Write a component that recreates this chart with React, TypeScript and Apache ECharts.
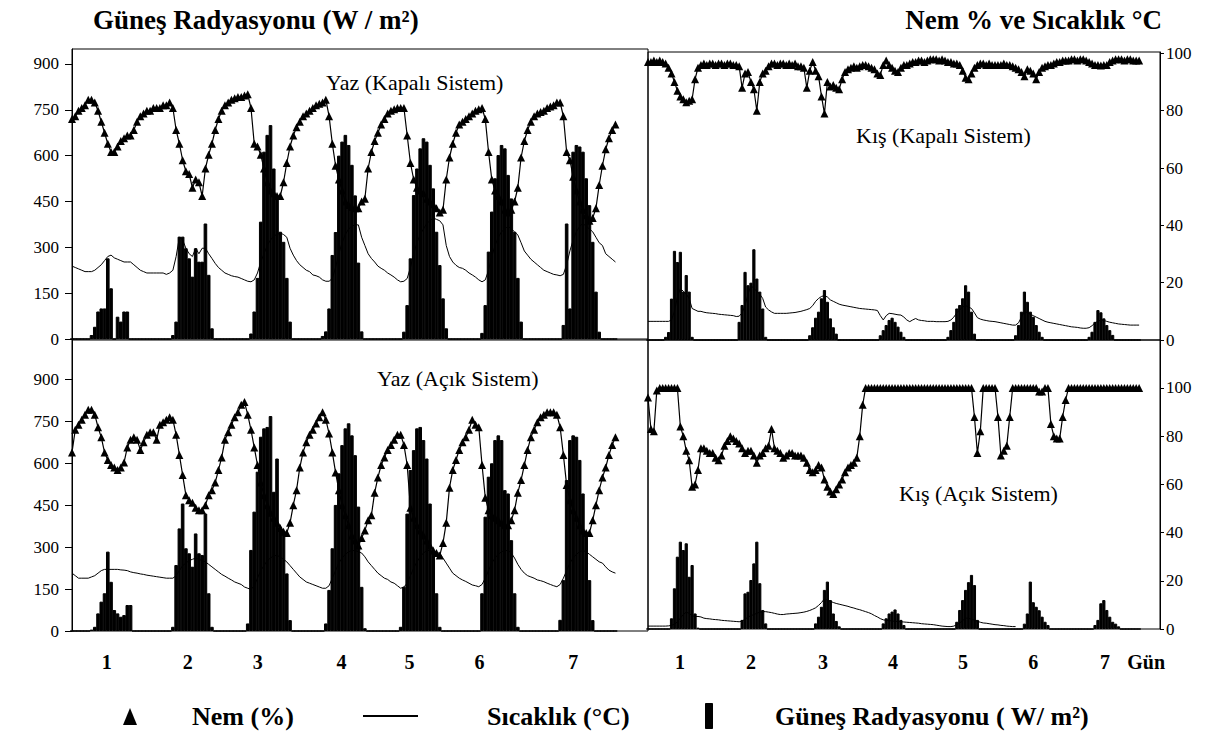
import React, { useEffect, useRef } from 'react';
import * as echarts from 'echarts';

const FONT = '"Liberation Serif", "Times New Roman", serif';

// ---- axis label data ----
const DAY_LABELS = ['1', '2', '3', '4', '5', '6', '7'];
const RIGHT_LABELS = ['1', '2', '3', '4', '5', '6', '7', 'Gün'];
const LEFT_DAY_POS = [10.7, 35.6, 57.1, 82.8, 103.7, 125.2, 154];
const RIGHT_DAY_POS = [10.9, 35, 59.5, 83.3, 107.1, 131, 155.4, 169.4];

// ---- Yaz (Kapalı Sistem): hourly values ----
const TL_RAD = [
  0, 0, 0, 0, 0, 0, 13, 40, 90, 100, 100, 264, 166, 0, 73, 57, 90, 90, 0, 0, 0, 0, 0, 0,
  0, 0, 0, 0, 0, 0, 0, 13, 57, 335, 335, 297, 264, 204, 297, 253, 253, 378, 210, 35, 0, 0, 0, 0,
  0, 0, 0, 0, 0, 0, 0, 18, 90, 200, 384, 613, 668, 700, 558, 460, 351, 318, 200, 57, 0, 0, 0, 0,
  0, 0, 0, 0, 0, 10, 25, 100, 275, 350, 600, 646, 668, 635, 570, 470, 250, 25, 0, 0, 0, 0, 0, 0,
  0, 0, 0, 0, 0, 0, 24, 111, 264, 471, 558, 624, 657, 646, 570, 493, 351, 242, 133, 35, 0, 0, 0, 0,
  0, 0, 0, 0, 0, 0, 20, 111, 286, 417, 526, 602, 635, 624, 537, 460, 351, 200, 57, 0, 0, 0, 0, 0,
  0, 0, 0, 0, 0, 0, 0, 46, 378, 100, 613, 635, 630, 613, 526, 438, 318, 155, 24, 0, 0, 0, 0, 0,
];
const TL_HUM = [
  80, 81, 83, 84, 85, 87, 87, 86, 83, 79, 75, 71, 68, 68, 70, 72, 73, 74, 74, 76, 79, 81, 82, 83,
  83, 84, 84, 84, 85, 85, 86, 84, 76, 71, 65, 61, 60, 55, 58, 57, 52, 62, 67, 71, 76, 80, 83, 85,
  86, 87, 87.5, 88, 88, 88.5, 89, 84, 71, 70, 67, 62, 57, 54, 53, 52, 52, 57, 64, 70, 74, 77, 79, 81,
  82, 83, 84, 85, 85.5, 86, 87, 81, 71, 63, 58, 54, 50, 48.7, 48, 47.5, 47.5, 50, 51, 62, 68, 72, 75, 78,
  80, 82, 83, 83.5, 84, 84, 84, 74, 64, 58, 55, 54, 53, 51, 50, 49, 47.5, 46, 47, 58, 66, 71, 75, 78,
  79, 80, 81, 82, 83, 83.5, 84, 80, 68, 58, 54, 52, 50, 47, 46, 47, 50, 55, 66, 72, 76, 79, 81, 82,
  82.5, 83, 84, 84.5, 85, 86, 86, 81, 68, 65, 59, 54, 50, 47, 45, 43, 44, 47.5, 56, 63, 69, 73, 76, 78,
];
const TL_TEMP = [
  26.5, 26, 25.5, 25, 24.5, 24.5, 24.5, 25, 26, 27, 28.5, 30, 30.5, 29.5, 29, 28.5, 28, 28, 28, 27, 26, 25, 24.5, 24,
  24, 24, 24, 24, 24, 23.5, 24, 25, 30, 37, 36, 33, 31, 30, 33, 31, 33, 33, 31, 29.3, 27.5, 26, 25, 24,
  23.5, 23, 22.7, 22.5, 22, 21.5, 21, 20.8, 21.5, 24, 28, 31, 34, 36, 37.5, 38, 38.5, 38, 37, 33, 30.5, 28.5, 27, 26,
  25, 24.5, 23.3, 23, 22.5, 21.5, 21, 21, 22, 26, 31, 35, 38, 40, 41, 41.5, 41.5, 37, 34, 31, 29.3, 28, 26.5, 25.7,
  25, 24, 23.3, 22.5, 21.5, 20.8, 21, 22, 26, 31, 35, 38, 40, 42, 43, 44, 43.5, 43, 41.5, 34, 30, 28, 26.8, 26,
  25.7, 25, 24, 23.3, 22.5, 21.5, 20.8, 21.5, 25, 30, 34, 37, 39, 40, 41, 40, 39, 37.8, 35, 32, 30.5, 29, 28, 27,
  26, 25, 24.5, 24, 23.5, 23.3, 23, 23.5, 27, 32, 36, 39, 41, 42, 41, 40, 39, 37, 35, 34, 31, 30, 29, 28,
];

// ---- Kış (Kapalı Sistem) ----
const TR_RAD = [
  0, 0, 0, 0, 0, 0, 10, 25, 130, 280, 245, 277, 152, 204, 152, 10, 0, 0, 0, 0, 0, 0, 0, 0,
  0, 0, 0, 0, 0, 0, 0, 57, 110, 214, 172, 180, 285, 193, 152, 99, 10, 0, 0, 0, 0, 0, 0, 0,
  0, 0, 0, 0, 0, 0, 0, 15, 40, 70, 89, 131, 157, 120, 68, 40, 20, 0, 0, 0, 0, 0, 0, 0,
  0, 0, 0, 0, 0, 0, 0, 15, 31, 47, 63, 70, 57, 42, 26, 10, 0, 0, 0, 0, 0, 0, 0, 0,
  0, 0, 0, 0, 0, 0, 10, 31, 57, 99, 110, 131, 172, 152, 89, 20, 0, 0, 0, 0, 0, 0, 0, 0,
  0, 0, 0, 0, 0, 15, 47, 89, 152, 120, 89, 73, 47, 26, 10, 0, 0, 0, 0, 0, 0, 0, 0, 0,
  0, 0, 0, 0, 0, 0, 10, 26, 57, 94, 87, 68, 47, 31, 16, 0, 0, 0, 0, 0, 0, 0, 0, 0,
];
const TR_HUM = [
  97, 97, 97.5, 97, 97.5, 97, 96.5, 95, 93, 90, 87, 85, 84, 83, 83.5, 84, 91, 95, 96, 96.5, 96, 96.5, 96.5, 96,
  96.5, 96.5, 96, 96.5, 96.5, 96, 96, 95.5, 88, 93, 93.5, 90, 87.5, 80, 90, 93, 94, 95.5, 96.5, 96.5, 96, 96.5, 96.5, 96,
  96.5, 96, 96.5, 95.5, 95.5, 95, 88, 94, 97, 94, 92, 85, 79, 90, 88.5, 89, 88, 87.5, 91, 93.5, 94.5, 95, 95.5, 95,
  95.5, 96, 96, 95.5, 95, 94.5, 93, 92.5, 96, 97.5, 96, 95, 94, 93.5, 95, 96, 96, 96.5, 97, 97, 97.5, 97.5, 97, 97.5,
  98, 98, 98, 97.5, 98, 97.5, 97, 97, 96.5, 96.5, 96, 94, 91.5, 91, 93, 95, 96, 96.5, 96.5, 96, 96.5, 96, 96, 96,
  96, 96.5, 96, 96, 95.5, 95, 94.5, 93.5, 92, 94.5, 94, 93, 91, 93.5, 95, 95.5, 96, 96, 96.5, 97, 97, 97.5, 97.5, 97.5,
  98, 98, 97.5, 98, 98, 97.5, 97, 96.5, 96, 96, 95.8, 96, 96, 97, 97.5, 98, 98, 98, 97.5, 98, 98, 97.5, 97.5, 97.5,
];
const TR_TEMP = [
  6.5, 6.5, 6.5, 6.5, 6.5, 6.5, 6.5, 6.5, 7, 10, 15, 18, 17, 16, 14.5, 11, 10.5, 10, 10, 9.7, 9.5, 9.4, 9.3, 9.2,
  9, 8.9, 8.8, 8.7, 8.6, 8.5, 8.2, 8.3, 9.5, 12, 16, 19, 18, 17, 16, 14.5, 11.5, 10.5, 9.8, 9.3, 9.3, 9.3, 9.3, 9.3,
  9.4, 9.5, 9.6, 9.8, 10, 10.3, 10.6, 11, 12, 13.5, 14.5, 15.2, 15.5, 15, 14, 13.5, 13, 12.5, 12.2, 12, 11.8, 11.6, 11.4, 11.2,
  11, 10.9, 10.8, 10.7, 10.6, 10.5, 10.3, 8.5, 7, 8.5, 9.3, 9.2, 9, 8.8, 8.7, 8, 7, 6.4, 7, 7.5, 7, 6.8, 6.7, 6.5,
  6.5, 6.5, 6.4, 6.4, 6.4, 6.4, 6.5, 7, 8, 9.5, 10.5, 11.5, 12, 11.5, 11, 9.5, 7.8, 7.3, 7, 6.8, 6.6, 6.5, 6.4, 6.2,
  6, 5.8, 5.6, 5.4, 5.2, 5.2, 6, 8, 10, 9.5, 9, 8.5, 8, 7.5, 7, 6.5, 6.2, 6, 5.8, 5.6, 5.4, 5.2, 5, 4.8,
  4.6, 4.5, 4.4, 4.2, 4.1, 4.1, 4.3, 5, 6, 6.5, 7, 6.8, 6.5, 6.2, 6, 5.8, 5.6, 5.5, 5.4, 5.3, 5.2, 5.2, 5.2, 5.2,
];

// ---- Yaz (Açık Sistem) ----
const BL_RAD = [
  0, 0, 0, 0, 0, 0, 5, 15, 63, 105, 135, 284, 176, 75, 63, 51, 57, 93, 93, 0, 0, 0, 0, 0,
  0, 0, 0, 0, 0, 0, 0, 15, 236, 367, 456, 296, 278, 230, 349, 278, 272, 420, 135, 15, 0, 0, 0, 0,
  0, 0, 0, 0, 0, 0, 27, 290, 427, 570, 695, 725, 730, 769, 498, 617, 373, 349, 206, 39, 0, 0, 0, 0,
  0, 0, 0, 0, 0, 0, 27, 147, 296, 451, 564, 665, 725, 743, 700, 629, 445, 158, 10, 0, 0, 0, 0, 0,
  0, 0, 0, 0, 0, 15, 158, 420, 576, 647, 725, 730, 683, 617, 456, 278, 135, 15, 0, 0, 0, 0, 0, 0,
  0, 0, 0, 0, 0, 0, 135, 409, 552, 600, 683, 700, 683, 504, 492, 325, 135, 15, 0, 0, 0, 0, 0, 0,
  0, 0, 0, 0, 0, 0, 40, 182, 540, 683, 700, 695, 612, 492, 349, 182, 39, 0, 0, 0, 0, 0, 0, 0,
];
const BL_HUM = [
  71, 80, 82, 84, 86, 88, 88, 86, 81, 77, 71, 68, 66, 65, 64, 65, 67, 73, 76, 77, 76, 72, 75, 78,
  79, 79, 76, 82, 83, 84, 85, 84, 78, 70, 62, 54, 52, 51, 49, 48, 48, 50, 54, 56, 59, 64, 69, 76,
  79, 82, 85, 87, 90, 91, 86, 80, 73, 66, 59, 54, 50, 47, 45, 43, 41, 39.5, 39, 43, 50, 56, 65, 71,
  75, 78, 80, 82.5, 85, 87, 84, 78.5, 71, 63, 56, 50, 46, 42, 38, 36, 34, 37, 40, 44, 46, 55, 61, 66,
  69, 72, 74, 76, 78, 78, 74, 66, 49, 45, 42, 40, 38, 36, 34, 32, 31, 30, 35, 43, 57, 64, 68, 72,
  75, 77, 80, 84, 82, 81, 66, 53, 48, 46, 45, 44, 43, 42, 42, 44, 48, 55, 60, 66, 72, 77, 80, 83,
  85, 86, 87, 87, 87, 86, 81, 70, 58, 52, 48, 45, 42, 40, 39, 39, 44, 50, 56, 61, 65, 70, 74, 77,
];
const BL_TEMP = [
  23, 22, 21, 21, 21, 21, 21.5, 22, 23, 24, 24.5, 24.5, 24.5, 24.5, 24.5, 24.3, 24.2, 24, 23.5, 23.2, 23, 22.7, 22.5, 22.2,
  22, 21.8, 21.6, 21.4, 21.2, 21, 21, 21, 22, 24, 26, 27, 28, 28.5, 29, 28.5, 28, 27.5, 26.5, 25.5, 24.5, 23.5, 22.5, 21.8,
  21, 20.3, 19.5, 19, 18.5, 17.5, 17, 16.5, 18, 21, 24, 26, 28, 29, 30, 30, 29.5, 28.5, 27.5, 26, 24.5, 23, 21.5, 20.5,
  19.5, 19, 18.5, 18, 17.5, 17, 17, 18, 21, 24, 27, 29, 30.5, 31.5, 32, 32, 31.5, 31, 29.5, 27.5, 26, 24.5, 23, 22,
  21, 20.5, 19.5, 19, 18, 17, 17.5, 19, 22, 25, 27.5, 29.5, 31, 32, 32, 31.5, 31, 31, 29, 27, 25, 23, 22, 21,
  20.3, 19.7, 19, 18.3, 18, 17.6, 18.5, 21, 24, 27, 29, 30.5, 31.5, 32, 32, 31, 29, 26.5, 24.5, 23, 22, 21.5, 21, 20.3,
  20, 19.6, 19, 18.5, 18, 17.6, 18.5, 21, 24, 27, 29, 30.5, 31.5, 32, 31.5, 30.5, 29.5, 28.5, 27.5, 27, 25.5, 24.2, 23.5, 23,
];

// ---- Kış (Açık Sistem) ----
const BR_RAD = [
  0, 0, 0, 0, 0, 0, 0, 0, 40, 152, 270, 326, 295, 320, 195, 239, 58, 5, 0, 0, 0, 0, 0, 0,
  0, 0, 0, 0, 0, 0, 0, 0, 34, 133, 139, 183, 245, 326, 171, 71, 21, 0, 0, 0, 0, 0, 0, 0,
  0, 0, 0, 0, 0, 0, 0, 0, 0, 21, 46, 83, 146, 177, 108, 58, 30, 10, 0, 0, 0, 0, 0, 0,
  0, 0, 0, 0, 0, 0, 0, 0, 21, 40, 58, 65, 73, 58, 34, 15, 0, 0, 0, 0, 0, 0, 0, 0,
  0, 0, 0, 0, 0, 0, 0, 0, 0, 27, 71, 108, 146, 175, 202, 164, 34, 0, 0, 0, 0, 0, 0, 0,
  0, 0, 0, 0, 0, 0, 0, 0, 20, 58, 177, 100, 83, 70, 46, 27, 15, 0, 0, 0, 0, 0, 0, 0,
  0, 0, 0, 0, 0, 0, 0, 0, 15, 34, 96, 108, 71, 46, 27, 20, 10, 0, 0, 0, 0, 0, 0, 0,
];
const BR_HUM = [
  96, 83, 82, 99, 100, 100, 100, 100, 100, 100, 100, 84, 80, 74, 70, 59, 60, 66, 75, 75, 74, 73, 73, 71,
  70, 72, 76, 78, 80, 79, 78, 77, 75, 73, 74, 74, 72, 69, 72, 73, 75, 76, 83, 75, 74, 73, 71, 72,
  73, 73, 72, 72, 72, 71, 69, 66, 65, 66, 68, 67, 62, 59, 57, 56, 58, 60, 62, 65, 67, 68, 69, 71,
  80, 93, 100, 100, 100, 100, 100, 100, 100, 100, 100, 100, 100, 100, 100, 100, 100, 100, 100, 100, 100, 100, 100, 100,
  100, 100, 100, 100, 100, 100, 100, 100, 100, 100, 100, 100, 100, 100, 100, 88, 73, 82, 100, 100, 100, 100, 100, 88,
  72, 74, 76, 88, 100, 100, 100, 100, 100, 100, 100, 100, 100, 98.5, 98.5, 100, 100, 85, 80, 79, 79, 88, 95, 100,
  100, 100, 100, 100, 100, 100, 100, 100, 100, 100, 100, 100, 100, 100, 100, 100, 100, 100, 100, 100, 100, 100, 100, 100,
];
const BR_TEMP = [
  1.2, 1.2, 1.2, 1.2, 1.2, 1.2, 1.2, 1.3, 1.5, 2, 3, 4.5, 6, 7, 6.5, 5.5, 5.2, 5.2, 5, 4.5, 4.3, 4.2, 4, 3.9,
  3.8, 3.6, 3.5, 3.4, 3.3, 3.2, 3.1, 3, 3.3, 4, 5, 5.5, 6, 6.5, 7, 7.2, 7.2, 7, 6.8, 6.5, 6.2, 6, 6, 6.2,
  6.3, 6.4, 6.5, 6.6, 6.8, 7, 7.3, 7.7, 8.2, 8.8, 9.8, 11, 12.5, 12, 11.5, 11, 10.6, 10.3, 10, 9.7, 9.4, 9, 8.7, 8.3,
  8, 7.6, 7.2, 6.8, 6.3, 5.6, 5, 4.3, 3.8, 3.6, 3.5, 3.3, 3.2, 3.1, 3, 2.9, 2.8, 2.7, 2.6, 2.5, 2.4, 2.2, 2.1, 2,
  1.9, 1.8, 1.6, 1.4, 1.2, 1.1, 1, 1, 1.2, 1.8, 2.5, 3.5, 4.5, 4.5, 4, 3.7, 3.2, 2.8, 2.5, 2.4, 2.2, 2, 1.8, 1.7,
  1.5, 1.4, 1.2, 1.1, 1, 1,
];

const HUM_NAME = 'Nem (%)';
const TEMP_NAME = 'Sıcaklık (°C)';
const RAD_NAME = 'Güneş Radyasyonu ( W/ m²)';

const pairs = (arr: number[]) => arr.map((v, i) => [i, v]);
const labelAt = (pos: number[], labels: string[]) => (v: number) => {
  const i = pos.findIndex((p) => Math.abs(p - v) < 1e-6);
  return i >= 0 ? labels[i] : '';
};

function buildOption() {
  const black = '#000';
  const grids = [
    { left: 72, top: 49, width: 576, height: 290 },
    { left: 648, top: 52, width: 512, height: 288 },
    { left: 72, top: 340, width: 576, height: 291 },
    { left: 648, top: 340, width: 512, height: 289 },
  ].map((g) => ({ ...g, show: true, borderColor: black, borderWidth: 1, backgroundColor: 'transparent' }));

  const xBase = (gridIndex: number, max: number) => ({
    gridIndex,
    type: 'value',
    min: 0,
    max,
    axisLine: { show: false },
    axisTick: { show: false },
    splitLine: { show: false },
    axisLabel: { show: false },
  });
  const xLabelStyle = { fontFamily: FONT, fontSize: 20, fontWeight: 'bold', color: black };

  const visYAxis = (gridIndex: number, position: string, max: number, interval: number) => ({
    gridIndex,
    type: 'value',
    position,
    min: 0,
    max,
    interval,
    axisLine: { show: true, lineStyle: { color: black, width: 1 } },
    axisTick: { show: true, inside: false, length: position === 'left' ? 7 : 4, lineStyle: { color: black } },
    splitLine: { show: false },
    axisLabel: {
      fontFamily: FONT,
      fontSize: 17,
      color: black,
      margin: position === 'left' ? 13 : 6,
      showMaxLabel: false,
    },
  });
  const hidYAxis = (gridIndex: number, position: string, max: number) => ({
    gridIndex,
    type: 'value',
    position,
    min: 0,
    max,
    show: false,
    splitLine: { show: false },
  });

  const panel = (gi: number, rad: number[], hum: number[], temp: number[], barW: number) => {
    const radY = gi * 2;
    const humY = gi * 2 + 1;
    return [
      {
        name: RAD_NAME,
        type: 'bar',
        xAxisIndex: gi,
        yAxisIndex: radY,
        data: pairs(rad),
        barWidth: barW,
        itemStyle: { color: black, borderColor: black, borderWidth: 1 },
        z: 2,
      },
      {
        name: TEMP_NAME,
        type: 'line',
        xAxisIndex: gi,
        yAxisIndex: humY,
        data: pairs(temp),
        symbol: 'none',
        showSymbol: false,
        itemStyle: { color: black },
        lineStyle: { color: black, width: 1 },
        z: 3,
      },
      {
        name: HUM_NAME,
        type: 'line',
        xAxisIndex: gi,
        yAxisIndex: humY,
        data: pairs(hum),
        symbol: 'triangle',
        symbolSize: 8,
        showSymbol: true,
        itemStyle: { color: black },
        lineStyle: { color: black, width: 1.2 },
        z: 4,
      },
    ];
  };

  const panelText = (text: string, left: number, top: number) => ({
    text,
    left,
    top,
    padding: 0,
    textStyle: { fontFamily: FONT, fontSize: 22, fontWeight: 'normal', color: black },
  });

  const legendText = (text: string, x: number) => ({
    type: 'text',
    x,
    y: 716,
    style: {
      text,
      fill: black,
      font: `bold 26px ${FONT}`,
      textVerticalAlign: 'middle',
      verticalAlign: 'middle',
    },
  });

  return {
    animation: false,
    backgroundColor: '#fff',
    title: [
      {
        text: 'Güneş Radyasyonu (W / m²)',
        left: 93,
        top: 6,
        padding: 0,
        textStyle: { fontFamily: FONT, fontSize: 27, fontWeight: 'bold', color: black },
      },
      {
        text: 'Nem % ve Sıcaklık °C',
        right: 62,
        top: 6,
        padding: 0,
        textStyle: { fontFamily: FONT, fontSize: 27, fontWeight: 'bold', color: black },
      },
      panelText('Yaz (Kapalı Sistem)', 326, 71),
      panelText('Kış (Kapalı Sistem)', 856, 124),
      panelText('Yaz (Açık Sistem)', 377, 367),
      panelText('Kış (Açık Sistem)', 899, 482),
    ],
    graphic: [
      {
        type: 'polygon',
        shape: { points: [[123, 725], [130, 708], [137, 725]] },
        style: { fill: black },
      },
      legendText(HUM_NAME, 192),
      {
        type: 'line',
        shape: { x1: 363, y1: 716, x2: 418, y2: 716 },
        style: { stroke: black, lineWidth: 2 },
      },
      legendText(TEMP_NAME, 487),
      {
        type: 'rect',
        shape: { x: 705.5, y: 703.5, width: 7, height: 25 },
        style: { fill: black, stroke: black, lineWidth: 1 },
      },
      legendText(RAD_NAME, 775),
    ],
    grid: grids,
    xAxis: [
      xBase(0, 177),
      xBase(1, 174.1),
      {
        ...xBase(2, 177),
        axisLabel: {
          show: true,
          customValues: LEFT_DAY_POS,
          formatter: labelAt(LEFT_DAY_POS, DAY_LABELS),
          margin: 21,
          ...xLabelStyle,
        },
      },
      {
        ...xBase(3, 174.1),
        axisLabel: {
          show: true,
          customValues: RIGHT_DAY_POS,
          formatter: labelAt(RIGHT_DAY_POS, RIGHT_LABELS),
          margin: 23,
          ...xLabelStyle,
        },
      },
    ],
    yAxis: [
      visYAxis(0, 'left', 949, 150),
      hidYAxis(0, 'right', 105.45),
      hidYAxis(1, 'left', 904.5),
      visYAxis(1, 'right', 100.5, 20),
      visYAxis(2, 'left', 1041, 150),
      hidYAxis(2, 'right', 115.7),
      hidYAxis(3, 'left', 1079),
      visYAxis(3, 'right', 119.9, 20),
    ],
    series: [
      ...panel(0, TL_RAD, TL_HUM, TL_TEMP, 3.6),
      ...panel(1, TR_RAD, TR_HUM, TR_TEMP, 3.2),
      ...panel(2, BL_RAD, BL_HUM, BL_TEMP, 3.6),
      ...panel(3, BR_RAD, BR_HUM, BR_TEMP, 3.2),
    ],
  };
}

export default function App() {
  const ref = useRef<HTMLDivElement>(null);
  useEffect(() => {
    if (!ref.current) return;
    const chart = echarts.init(ref.current, undefined, { renderer: 'svg' });
    chart.setOption(buildOption() as any);
    return () => chart.dispose();
  }, []);
  return (
    <div
      ref={ref}
      style={{ position: 'absolute', left: 0, top: 0, width: 1224, height: 731, background: '#fff' }}
    />
  );
}
